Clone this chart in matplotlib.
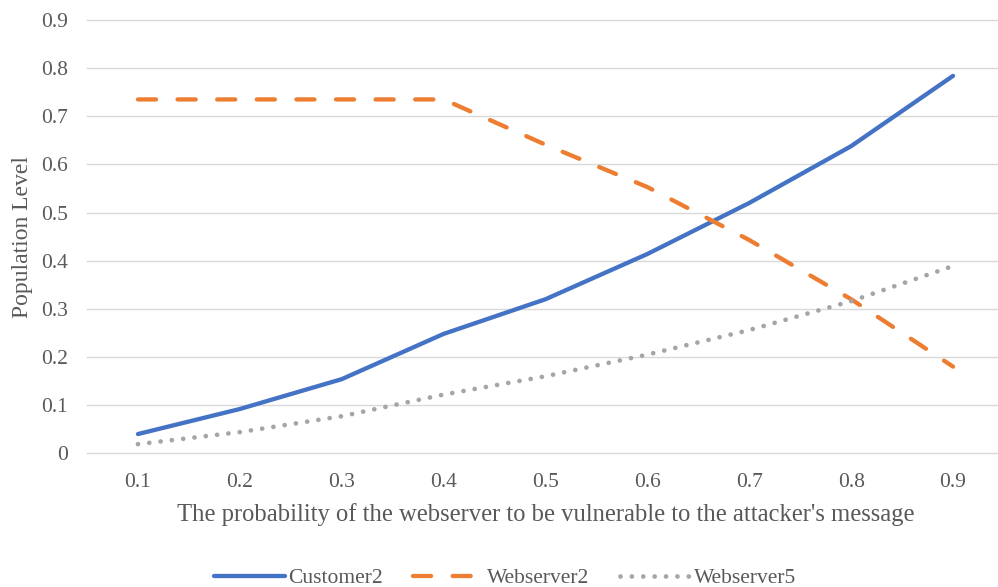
# 攻擊者訊息的 webserver 漏洞機率 vs population level
import matplotlib
matplotlib.use('Agg')
import matplotlib.pyplot as plt

plt.rcParams['font.family'] = ['Liberation Serif', 'DejaVu Serif']

listx = ['0.1', '0.2', '0.3', '0.4', '0.5', '0.6', '0.7', '0.8', '0.9']
customer2 = [0.040, 0.092, 0.154, 0.248, 0.320, 0.414, 0.520, 0.638, 0.784]
webserver2 = [0.735, 0.735, 0.735, 0.735, 0.641, 0.553, 0.443, 0.320, 0.180]
webserver5 = [0.019, 0.044, 0.077, 0.122, 0.160, 0.205, 0.256, 0.316, 0.389]
yticks = [0, 0.1, 0.2, 0.3, 0.4, 0.5, 0.6, 0.7, 0.8, 0.9]
ytick_labels = ['0', '0.1', '0.2', '0.3', '0.4', '0.5', '0.6', '0.7', '0.8', '0.9']

text_color = '#595959'

fig = plt.figure(figsize=(9.98, 5.87), dpi=100)
# 右邊超出畫布一點
ax = fig.add_axes([87 / 998, 133.7 / 587, 917 / 998, 433.3 / 587])

pos = range(len(listx))
ax.plot(pos, customer2, color='#4472C4', lw=3.1, solid_capstyle='round',
        label='Customer2', zorder=3)
ax.plot(pos, webserver2, color='#ED7D31', lw=3.1, dashes=(4.2, 5.0),
        dash_capstyle='round', label='Webserver2', zorder=3)
ax.plot(pos, webserver5, color='#A5A5A5', lw=3.4, dashes=(0.01, 2.4),
        dash_capstyle='round', label='Webserver5', zorder=3)

ax.set_xlim(-0.5, len(listx) - 0.5)
ax.set_ylim(0, 0.9)
ax.set_xticks(list(pos))
ax.set_xticklabels(listx)
ax.set_yticks(yticks)
ax.set_yticklabels(ytick_labels)
ax.tick_params(axis='both', length=0, labelsize=15.5, colors=text_color)
ax.tick_params(axis='y', pad=13.5)
ax.tick_params(axis='x', pad=14)

ax.grid(axis='y', color='#D9D9D9', lw=1.0)
for gl in ax.get_ygridlines():
    gl.set_clip_on(False)
ax.set_axisbelow(True)
for s in ax.spines.values():
    s.set_visible(False)

ax.set_xlabel("The probability of the webserver to be vulnerable to the attacker's message",
              fontsize=17.7, color=text_color, labelpad=8)
ax.set_ylabel('Population Level', fontsize=17, color=text_color, labelpad=6)

fig.legend(loc='center', bbox_to_anchor=(505 / 998, 9 / 587), ncol=3,
           frameon=False, fontsize=15.5, handlelength=3.3, handletextpad=0.15,
           columnspacing=1.4, labelcolor=text_color)

fig.savefig('out.png', dpi=100)
